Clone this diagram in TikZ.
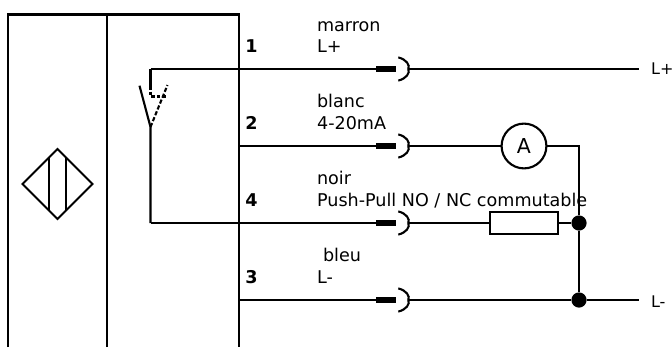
\documentclass[tikz,border=0pt]{standalone}
\usepackage{fontspec}
\setmainfont{DejaVu Sans}
\usepackage{tikz}
\usetikzlibrary{calc}
\tikzset{>=latex}
\tikzset{wire/.style={line width=1.5pt}}
\tikzset{bar/.style={fill=black, inner sep=0pt, minimum width=0.5cm, minimum height=0.15cm}}
\tikzset{dot/.style={circle, fill=black, inner sep=0pt, minimum size=0.38cm}}
\tikzset{lbl/.style={anchor=base west, inner sep=0pt, font=\fontsize{12.5}{14}\selectfont}}
\tikzset{endlbl/.style={anchor=base west, inner sep=0pt, font=\fontsize{11.4}{14}\selectfont}}
\tikzset{pin/.style={anchor=base west, inner sep=0pt, font=\fontsize{12.5}{14}\selectfont\bfseries}}
\newcommand{\plugarc}[1]{\draw[wire] ($(#1.east)+(0.05,0.29)$) .. controls ($(#1.east)+(0.25,0.24)$) and ($(#1.east)+(0.35,0.1)$) .. ($(#1.east)+(0.3,0)$) .. controls ($(#1.east)+(0.35,-0.1)$) and ($(#1.east)+(0.25,-0.24)$) .. ($(#1.east)+(0.05,-0.29)$);}
\begin{document}
\begin{tikzpicture}
\useasboundingbox (0,0) rectangle (16.8,8.675);
% housing
\draw[line width=1.7pt] (0.2,0) -- (0.2,8.3125) -- (5.975,8.3125) -- (5.975,0);
\draw[line width=1.7pt] (2.675,0) -- (2.675,8.3125);
% sensor symbol
\draw[wire] (1.4375,4.95) -- (2.3125,4.075) -- (1.4375,3.2) -- (0.5625,4.075) -- cycle;
\draw[wire] (1.225,4.7375) -- (1.225,3.4125);
\draw[wire] (1.65,4.7375) -- (1.65,3.4125);
% switch
\coordinate (top) at (3.7625,6.95);
\coordinate (pivot) at (3.7625,5.5);
\coordinate (bot) at (3.7625,3.1);
\draw[wire] (top) -- (3.7625,6.525);
\draw[wire, dash pattern=on 2.5pt off 1.5pt] (3.7625,6.525) -- (3.7625,6.2625) -- (4.14,6.2625);
\draw[wire, dash pattern=on 3pt off 1.5pt] (pivot) -- (4.1875,6.55);
\draw[wire] (3.4875,6.5325) -- (pivot) -- (bot);
% plugs
\node[bar] (bar1) at (9.65,6.95) {};
\node[bar] (bar2) at (9.65,5.025) {};
\node[bar] (bar4) at (9.65,3.1) {};
\node[bar] (bar3) at (9.65,1.175) {};
\plugarc{bar1}
\plugarc{bar2}
\plugarc{bar4}
\plugarc{bar3}
% loads
\node[draw, circle, wire, inner sep=0pt, minimum size=1.12cm, font=\fontsize{14.6}{16}\selectfont] (amm) at (13.1,5.025) {A};
\node[draw, wire, inner sep=0pt, minimum width=1.68cm, minimum height=0.55cm] (res) at (13.1,3.1) {};
\node[dot] (dot4) at (14.475,3.1) {};
\node[dot] (dot3) at (14.475,1.175) {};
\coordinate (endp) at (15.975,6.95);
\coordinate (endm) at (15.975,1.175);
\coordinate (bend) at (14.475,5.025);
% wires
\draw[wire] (top) -- (bar1.west);
\draw[wire] ($(bar1.east)+(0.3,0)$) -- (endp);
\draw[wire] (5.975,5.025) -- (bar2.west);
\draw[wire] ($(bar2.east)+(0.3,0)$) -- (amm.west);
\draw[wire] (amm.east) -- (bend) -- (dot4);
\draw[wire] (bot) -- (bar4.west);
\draw[wire] ($(bar4.east)+(0.3,0)$) -- (res.west);
\draw[wire] (res.east) -- (dot4);
\draw[wire] (dot4) -- (dot3);
\draw[wire] (5.975,1.175) -- (bar3.west);
\draw[wire] ($(bar3.east)+(0.3,0)$) -- (dot3) -- (endm);
% labels
\node[pin] (pin1) at (6.125,7.375) {1};
\node[pin] (pin2) at (6.125,5.45) {2};
\node[pin] (pin4) at (6.125,3.525) {4};
\node[pin] (pin3) at (6.125,1.6) {3};
\node[lbl] (col1) at (7.92,7.9) {marron};
\node[lbl] (sig1) at (7.92,7.375) {L+};
\node[lbl] (col2) at (7.92,6) {blanc};
\node[lbl] (sig2) at (7.92,5.45) {4-20mA};
\node[lbl] (col4) at (7.92,4.075) {noir};
\node[lbl] (sig4) at (7.92,3.525) {Push-Pull NO / NC commutable};
\node[lbl] (col3) at (8.07,2.15) {bleu};
\node[lbl] (sig3) at (7.92,1.6) {L-};
\node[endlbl] (lplus) at (16.27,6.825) {L+};
\node[endlbl] (lminus) at (16.27,1.0) {L-};
\end{tikzpicture}
\end{document}
